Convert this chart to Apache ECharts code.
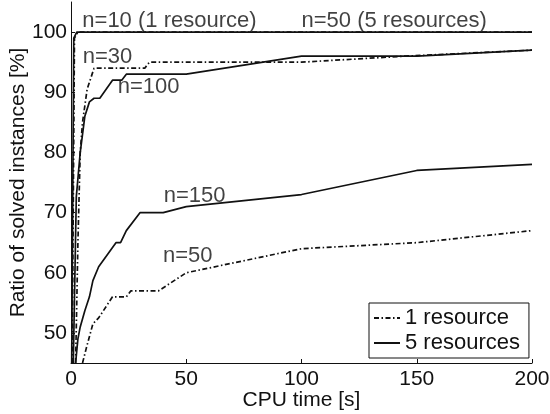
<!DOCTYPE html>
<html>
<head>
<meta charset="utf-8">
<script src="https://cdn.jsdelivr.net/npm/echarts@6/dist/echarts.min.js"></script>
<style>
  html, body { margin: 0; padding: 0; background: #fff; }
  #main { width: 550px; height: 414px; }
</style>
</head>
<body>
<div id="main"></div>
<script>
// y ticks shown on the left axis
var yTicks = [50, 60, 70, 80, 90, 100];

// 1 resource (dash-dot)
var n10One = [[0.5, 45], [1.5, 99], [3, 100], [200, 100]];
var n30One = [[2, 45], [3, 65], [4, 80], [5, 85], [7, 90.5], [10, 94], [32, 94], [34, 95], [100, 95], [145, 96], [200, 97]];
var n50One = [[5, 45], [7, 48], [9.5, 51.5], [12, 52.5], [18, 56], [24, 56], [26, 57], [38, 57], [50, 60], [100, 64], [150, 65], [200, 67]];

// 5 resources (solid)
var n50Five = [[0.3, 45], [1.2, 99], [2.5, 100], [200, 100]];
var n100Five = [[1, 45], [2.3, 72.6], [4, 80], [6, 86], [8, 88.4], [10, 89], [12.5, 89], [18, 92], [22, 92], [24, 93], [50, 93], [100, 96], [150, 96], [200, 97]];
var n150Five = [[2, 45], [3, 49], [4, 51], [6, 53.7], [8, 56], [9.5, 58.7], [12, 61], [19.5, 65], [21.5, 65], [24, 67], [30, 70], [40, 70], [50, 71], [100, 73], [150, 77], [200, 78]];

// curve labels, anchored at their left edge
var notes = [
    ['n=10 (1 resource)', 4.9, 101.9],
    ['n=50 (5 resources)', 100, 101.9],
    ['n=30', 5.1, 95.8],
    ['n=100', 20.3, 90.9],
    ['n=150', 40.2, 72.8],
    ['n=50', 39.9, 62.8]
];

var ink = '#111';
var font = 'Liberation Sans, Arial, Helvetica, sans-serif';
var fs = 22;
var dashDot = [5, 2.5, 1.5, 2.5];

function curve(name, data, dashed) {
    return {
        name: name,
        type: 'line',
        data: data,
        symbol: 'none',
        silent: true,
        lineStyle: { color: ink, width: 1.7, type: dashed ? dashDot : 'solid' },
        itemStyle: { color: ink }
    };
}

var myChart = echarts.init(document.getElementById('main'));
myChart.setOption({
    animation: false,
    textStyle: { fontFamily: font },
    grid: { left: 71, right: 18, top: 2, bottom: 51, outerBoundsMode: 'none' },
    legend: {
        data: ['1 resource', '5 resources'],
        orient: 'vertical',
        left: 369,
        top: 303,
        borderColor: ink,
        borderWidth: 1,
        borderRadius: 0,
        padding: [4, 9, 4, 4],
        itemWidth: 26,
        itemHeight: 12,
        itemGap: 3,
        itemStyle: { opacity: 0, borderWidth: 0 },
        textStyle: { color: ink, fontSize: fs, fontFamily: font }
    },
    xAxis: {
        type: 'value',
        min: 0,
        max: 200,
        interval: 50,
        name: 'CPU time [s]',
        nameLocation: 'middle',
        nameGap: 27,
        nameMoveOverlap: false,
        nameTextStyle: { color: ink, fontSize: 21 },
        axisLine: { lineStyle: { color: ink, width: 1 } },
        axisTick: { inside: true, length: 4, lineStyle: { color: ink } },
        axisLabel: { color: ink, fontSize: 21, margin: 6 },
        splitLine: { show: false }
    },
    yAxis: {
        type: 'value',
        min: 45,
        max: 105,
        name: 'Ratio of solved instances [%]',
        nameLocation: 'middle',
        nameGap: 42,
        nameMoveOverlap: false,
        nameTextStyle: { color: ink, fontSize: 21 },
        axisLine: { show: true, lineStyle: { color: ink, width: 1 } },
        axisTick: { show: true, inside: true, length: 4, customValues: yTicks, lineStyle: { color: ink } },
        axisLabel: { color: ink, fontSize: 21, margin: 4, customValues: yTicks },
        splitLine: { show: false }
    },
    series: [
        curve('1 resource', n10One, true),
        curve('1 resource', n30One, true),
        curve('1 resource', n50One, true),
        curve('5 resources', n50Five, false),
        curve('5 resources', n100Five, false),
        curve('5 resources', n150Five, false),
        {
            name: 'notes',
            type: 'scatter',
            symbolSize: 0,
            silent: true,
            data: notes.map(function (n) { return { name: n[0], value: [n[1], n[2]] }; }),
            label: {
                show: true,
                position: 'right',
                distance: 0,
                formatter: '{b}',
                color: ink,
                fontSize: fs,
                fontFamily: font
            }
        }
    ]
});
</script>
</body>
</html>
